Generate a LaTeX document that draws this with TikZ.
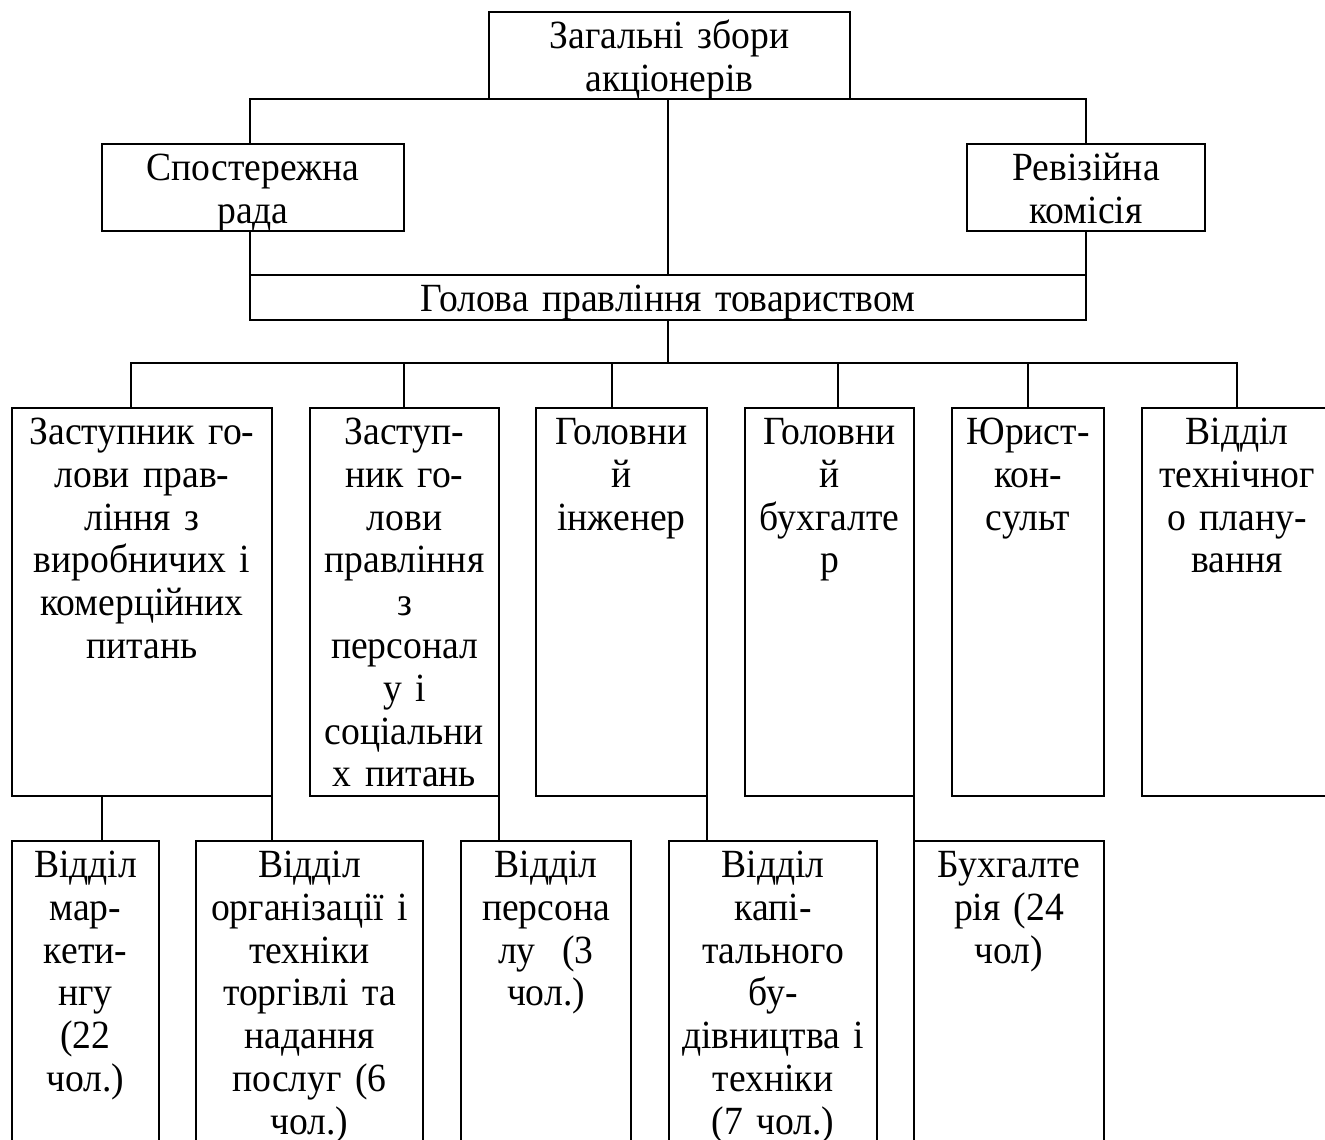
\documentclass[tikz,border=0pt]{standalone}
\usepackage{fontspec}
\setmainfont{Liberation Serif}[FakeStretch=0.94]
\usetikzlibrary{fit,calc}
\tikzset{
  box/.style={draw, line width=1.35pt, inner sep=0pt, outer sep=0pt},
  txt/.style={inner sep=0pt, anchor=north, align=center,
    font=\fontsize{20}{21.4}\selectfont,
    execute at begin node={\rule{0pt}{17pt}}},
  conn/.style={line width=1.35pt, line cap=rect},
}
\begin{document}
\begin{tikzpicture}[x=0.5pt,y=-0.5pt]
\useasboundingbox (0,0) rectangle (1325,1139);
\clip (0,0) rectangle (1325,1139);
% boxes
\node[box, fit={(489,12) (850,99)}] (top) {};
\node[box, fit={(102,144) (404,231)}] (sp) {};
\node[box, fit={(967,144) (1205,231)}] (rev) {};
\node[box, fit={(250,275) (1086,320)}] (hol) {};
\node[box, fit={(12,408) (272,796)}] (A) {};
\node[box, fit={(310,408) (499,796)}] (B) {};
\node[box, fit={(536,408) (707,796)}] (C) {};
\node[box, fit={(745,408) (914,796)}] (D) {};
\node[box, fit={(952,408) (1104,796)}] (E) {};
\node[box, fit={(1142,408) (1332,796)}] (F) {};
\node[box, fit={(12,841) (159,1170)}] (G) {};
\node[box, fit={(196,841) (423,1170)}] (H) {};
\node[box, fit={(461,841) (631,1170)}] (I) {};
\node[box, fit={(669,841) (877,1170)}] (J) {};
\node[box, fit={(914,841) (1104,1170)}] (K) {};
% texts
\node[txt, text width=178pt] (topt) at ([yshift=-1pt]top.north) {Загальні збори\\акціонерів};
\node[txt, text width=149pt] (spt) at ([yshift=-1pt]sp.north) {Спостережна\\рада};
\node[txt, text width=117pt] (revt) at ([yshift=-1pt]rev.north) {Ревізійна\\комісія};
\node[txt, text width=415pt] (holt) at ([yshift=-1pt]hol.north) {Голова правління товариством};
\node[txt, text width=128pt] (At) at ([yshift=-1pt]A.north) {Заступник го-\\лови прав-\\ління з\\виробничих і\\комерційних\\питань};
\node[txt, text width=92pt] (Bt) at ([yshift=-1pt]B.north) {Заступ-\\ник го-\\лови\\правління\\з\\персонал\\у і\\соціальни\\х питань};
\node[txt, text width=83pt] (Ct) at ([yshift=-1pt]C.north) {Головни\\й\\інженер};
\node[txt, text width=82pt] (Dt) at ([yshift=-1pt]D.north) {Головни\\й\\бухгалте\\р};
\node[txt, text width=74pt] (Et) at ([yshift=-1pt]E.north) {Юрист-\\кон-\\сульт};
\node[txt, text width=93pt] (Ft) at ([yshift=-1pt]F.north) {Відділ\\технічног\\о плану-\\вання};
\node[txt, text width=72pt] (Gt) at ([yshift=-1pt]G.north) {Відділ\\мар-\\кети-\\нгу\\(22\\чол.)};
\node[txt, text width=112pt] (Ht) at ([yshift=-1pt]H.north) {Відділ\\організації і\\техніки\\торгівлі та\\надання\\послуг (6\\чол.)};
\node[txt, text width=83pt] (It) at ([yshift=-1pt]I.north) {Відділ\\персона\\лу~~(3\\чол.)};
\node[txt, text width=102pt] (Jt) at ([yshift=-1pt]J.north) {Відділ\\капі-\\тального\\бу-\\дівництва і\\техніки\\(7 чол.)};
\node[txt, text width=93pt] (Kt) at ([yshift=-1pt]K.north) {Бухгалте\\рія (24\\чол)};
% upper connectors
\coordinate (tL) at (250,99);
\coordinate (tR) at (1086,99);
\draw[conn] (tL) -- (tR);
\draw[conn] (tL) -- (tL |- sp.north);
\draw[conn] (tL |- sp.south) -- (hol.north west);
\draw[conn] (hol.north |- tL) -- (hol.north);
\draw[conn] (tR) -- (tR |- rev.north);
\draw[conn] (tR |- rev.south) -- (hol.north east);
% bus to second row
\coordinate (b1) at (131,363);
\coordinate (b2) at (404,363);
\coordinate (b3) at (612,363);
\coordinate (b4) at (838,363);
\coordinate (b5) at (1028,363);
\coordinate (b6) at (1237,363);
\draw[conn] (hol.south) -- (hol.south |- b1);
\draw[conn] (b1) -- (b6);
\draw[conn] (b1) -- (b1 |- A.north);
\draw[conn] (b2) -- (b2 |- B.north);
\draw[conn] (b3) -- (b3 |- C.north);
\draw[conn] (b4) -- (b4 |- D.north);
\draw[conn] (b5) -- (b5 |- E.north);
\draw[conn] (b6) -- (b6 |- F.north);
% second to third row
\coordinate (ag) at (102,796);
\draw[conn] (ag) -- (ag |- G.north);
\draw[conn] (A.south east) -- (A.south east |- H.north);
\draw[conn] (B.south east) -- (B.south east |- I.north);
\draw[conn] (C.south east) -- (C.south east |- J.north);
\draw[conn] (D.south east) -- (K.north west);
\end{tikzpicture}
\end{document}
